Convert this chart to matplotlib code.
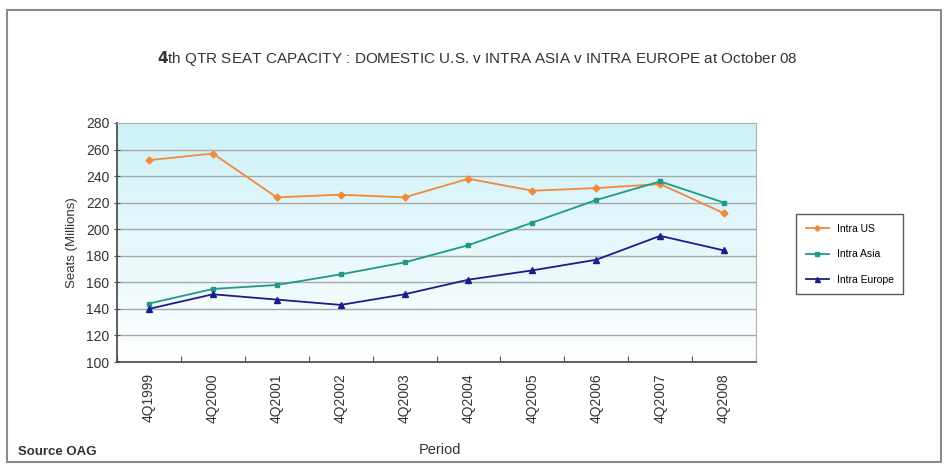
import matplotlib.pyplot as plt
import numpy as np
from matplotlib.patches import Rectangle

#####################
# seat capacity data, 4th quarter of each year
periods = ['4Q1999', '4Q2000', '4Q2001', '4Q2002', '4Q2003',
           '4Q2004', '4Q2005', '4Q2006', '4Q2007', '4Q2008']
intra_us = [252, 257, 224, 226, 224, 238, 229, 231, 234, 212]
intra_asia = [144, 155, 158, 166, 175, 188, 205, 222, 236, 220]
intra_europe = [140, 151, 147, 143, 151, 162, 169, 177, 195, 184]
yticks = np.arange(100, 281, 20)

plt.rcParams['font.family'] = ['Liberation Sans', 'DejaVu Sans']

fig = plt.figure(figsize=(9.48, 4.65), dpi=100)
fig.patches.append(Rectangle((7/948, 3/465), 934/948, 452/465, transform=fig.transFigure,
                             fill=False, edgecolor='#8a8a8a', lw=1.5))

a = fig.add_axes([117/948, 103/465, 639/948, 239/465])
x = np.arange(len(periods))
a.set_xlim(-0.5, len(periods) - 0.5)
a.set_ylim(100, 280)

# light cyan gradient behind the plot
grad = np.linspace(0, 1, 256).reshape(-1, 1)
cmap = plt.matplotlib.colors.LinearSegmentedColormap.from_list('bg', ['#ffffff', '#cdf1f7'])
a.imshow(grad, extent=[-0.5, len(periods) - 0.5, 100, 280], origin='lower',
         aspect='auto', cmap=cmap, zorder=0)

for t in yticks[1:-1]:
    a.axhline(t, color='#a8a8a8', lw=1.0, zorder=1)

a.plot(x, intra_us, color='#f08a3a', marker='D', markersize=3.5, lw=1.3, label='Intra US', zorder=3)
a.plot(x, intra_asia, color='#1f9a86', marker='s', markersize=3.5, lw=1.3, label='Intra Asia', zorder=3)
a.plot(x, intra_europe, color='#1c1c8a', marker='^', markersize=4.5, lw=1.3, label='Intra Europe', zorder=4)

a.set_yticks(yticks)
a.set_yticklabels([str(v) for v in yticks], fontsize=10, color='#333333')
a.set_xticks(np.arange(-0.5, len(periods), 1), minor=False)
a.set_xticklabels([])
a.set_xticks(x, minor=True)
a.set_xticklabels(periods, minor=True, rotation=90, fontsize=10, color='#333333')
a.tick_params(axis='x', which='minor', length=0, pad=8)
a.tick_params(axis='x', which='major', length=4, direction='in', color='#555555')
a.tick_params(axis='y', length=4, direction='inout', color='#555555')
for s in ['top', 'right']:
    a.spines[s].set_color('#b0b0b0')
for s in ['left', 'bottom']:
    a.spines[s].set_color('#444444')
    a.spines[s].set_linewidth(1.2)

a.set_ylabel('Seats (Millions)', fontsize=9.5, color='#333333', labelpad=6)
fig.text(440/948, 1 - 450/465, 'Period', fontsize=10.5, color='#333333', ha='center', va='center')
fig.text(18/948, 1 - 452/465, 'Source OAG', fontsize=9.5, fontweight='bold', color='#333333',
         ha='left', va='center')
fig.text(477/948, 1 - 58/465,
         r'$\mathbf{4}$th QTR SEAT CAPACITY : DOMESTIC U.S. v INTRA ASIA v INTRA EUROPE at October 08',
         fontsize=11, color='#333333', ha='center', va='center')

leg = a.legend(loc='center left', bbox_to_anchor=(1.055, 0.45), fontsize=7.5, frameon=True,
               fancybox=False, edgecolor='#333333', handlelength=2.2, labelspacing=1.5,
               borderpad=0.9, markerscale=0.8)
leg.get_frame().set_linewidth(1.0)

plt.savefig('out.png', dpi=100)
